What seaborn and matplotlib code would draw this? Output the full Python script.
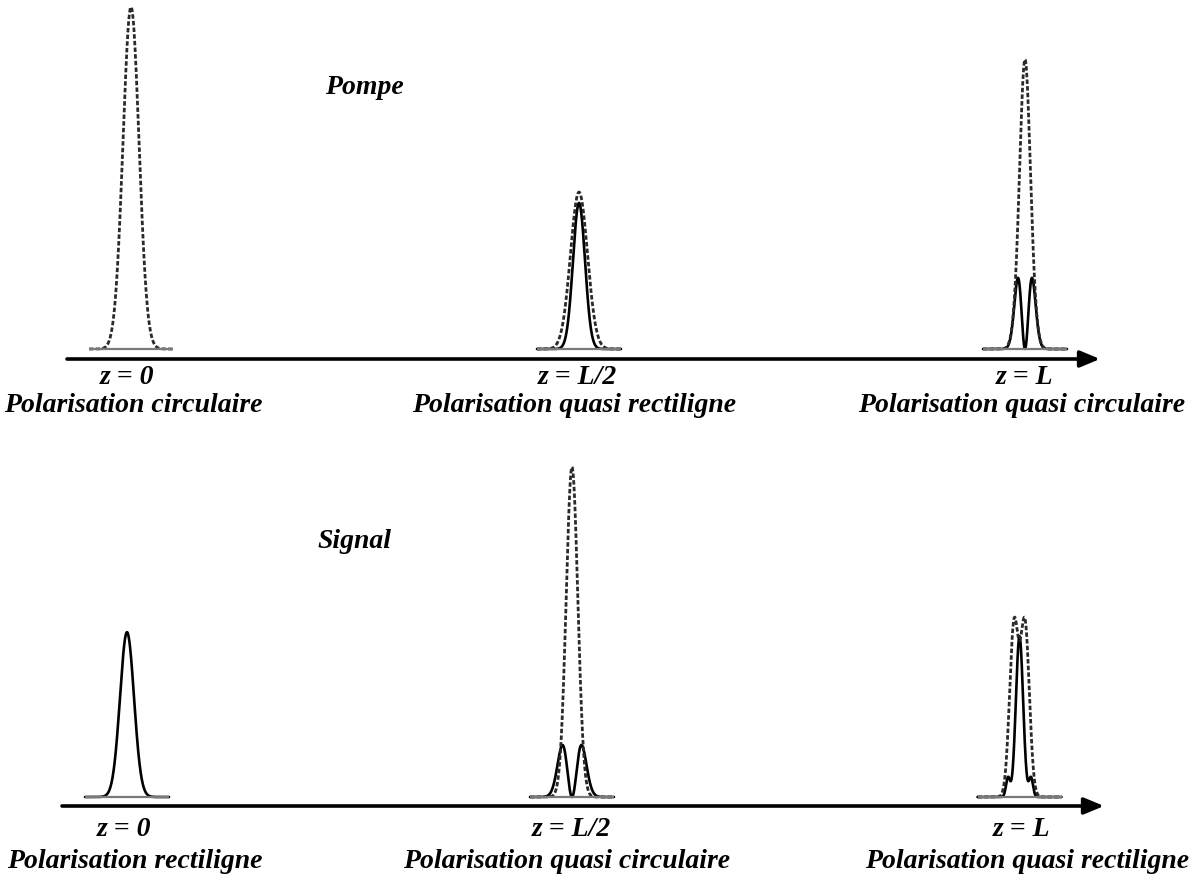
import numpy as np
import pandas as pd
import matplotlib
matplotlib.use("Agg")
import matplotlib.pyplot as plt
import seaborn as sns

sns.set_theme(style="white")
plt.rcParams['font.family'] = ['Liberation Serif', 'DejaVu Serif']
plt.rcParams['text.color'] = 'black'

W, H = 1197, 881
SCALE = 342.0  # px per unit of normalised intensity

panel_titles = ["Pompe", "Signal"]
z_labels = ["z = 0", "z = L/2", "z = L"]
pol_pompe = ["Polarisation circulaire", "Polarisation quasi rectiligne", "Polarisation quasi circulaire"]
pol_signal = ["Polarisation rectiligne", "Polarisation quasi circulaire", "Polarisation quasi rectiligne"]

# pulse centre positions along the propagation axis
centers_pompe = [131, 579, 1025]
centers_signal = [127, 572, 1019.5]

# pulse profiles: (kind, offset, peak, width); 'g' = single hump, 'd' = double hump with zero at centre
pompe_dotted = [[("g", 0, 1.00, 8.0)],
                [("g", 0, 0.459, 8.5)],
                [("g", 0, 0.83, 5.2), ("g", -8.5, 0.05, 4.5), ("g", 8.5, 0.05, 4.5)]]
pompe_solid = [[],
               [("g", 0, 0.427, 6.0)],
               [("d", 0, 0.208, 7.0)]]
signal_dotted = [[],
                 [("g", 0, 0.965, 5.8)],
                 [("g", -5.5, 0.50, 4.4), ("g", 5.5, 0.50, 4.4)]]
signal_solid = [[("g", 0, 0.482, 7.0)],
                [("d", 0, 0.152, 9.5)],
                [("g", 0, 0.47, 3.6), ("g", -11.5, 0.056, 2.0), ("g", 11.5, 0.056, 2.0)]]


def profile(x, humps):
    y = np.zeros_like(x)
    for kind, off, peak, w in humps:
        u = (x - off) / w
        if kind == "g":
            y += peak * np.exp(-u ** 2 / 2)
        else:
            y += peak * np.e * u ** 2 * np.exp(-u ** 2)
    return y


panels = [
    dict(title=panel_titles[0], centers=centers_pompe, dotted=pompe_dotted, solid=pompe_solid,
         pols=pol_pompe, top=0, bottom=440, base=349, arrow=359, ax0=67, ax1=1100,
         title_xy=(364, 87), z_y=377, pol_y=405, z_x=[127, 577, 1025], pol_x=[133, 574, 1022]),
    dict(title=panel_titles[1], centers=centers_signal, dotted=signal_dotted, solid=signal_solid,
         pols=pol_signal, top=440, bottom=881, base=797, arrow=806, ax0=62, ax1=1104,
         title_xy=(354, 542), z_y=829, pol_y=861, z_x=[124, 571, 1022], pol_x=[135, 567, 1027]),
]

fig = plt.figure(figsize=(W / 100, H / 100), dpi=100)
fig.patch.set_facecolor("white")

txt_kw = dict(fontsize=20, fontweight="bold", fontstyle="italic", ha="center", va="center", color="black")

for p in panels:
    ax = fig.add_axes([0, 1 - p["bottom"] / H, 1, (p["bottom"] - p["top"]) / H])
    ax.set_xlim(0, W)
    ax.set_ylim(-(p["bottom"] - p["base"]) / SCALE, (p["base"] - p["top"]) / SCALE)
    ax.set_axis_off()

    for i, c in enumerate(p["centers"]):
        x = np.arange(-42, 42.01, 0.25)
        for humps, color, dashed in ((p["solid"][i], "black", False), (p["dotted"][i], "#2a2a2a", True)):
            if not humps:
                continue
            df = pd.DataFrame({"x": x + c, "y": profile(x, humps)})
            sns.lineplot(data=df, x="x", y="y", ax=ax, color=color, lw=2.0 if dashed else 1.9,
                         estimator=None, sort=False, zorder=2)
            if dashed:
                ax.lines[-1].set_dashes([1.6, 0.8])
        ax.plot([c - 42, c + 42], [0, 0], color="#7a7a7a", lw=1.6, zorder=3, solid_capstyle="butt")

    ya = -(p["arrow"] - p["base"]) / SCALE
    ax.annotate("", xy=(p["ax1"], ya), xytext=(p["ax0"], ya),
                arrowprops=dict(arrowstyle="-|>,head_length=0.6,head_width=0.25", lw=2.6, color="black",
                                shrinkA=0, shrinkB=0, mutation_scale=20))

    fig.text(p["title_xy"][0] / W, 1 - p["title_xy"][1] / H, p["title"], **txt_kw)
    for zx, zl in zip(p["z_x"], z_labels):
        fig.text(zx / W, 1 - p["z_y"] / H, zl, **txt_kw)
    for px, pl in zip(p["pol_x"], p["pols"]):
        fig.text(px / W, 1 - p["pol_y"] / H, pl, **txt_kw)

fig.savefig("out.png", dpi=100, facecolor="white")
